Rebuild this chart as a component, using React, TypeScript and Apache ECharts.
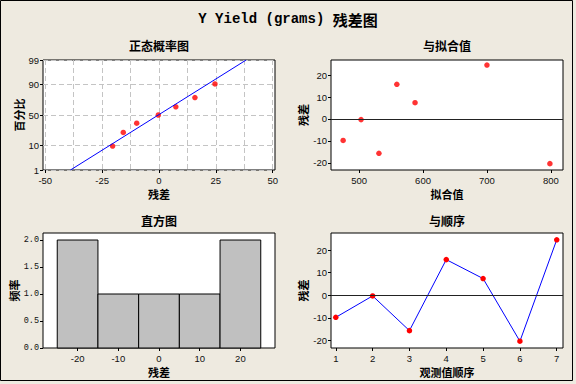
import React, { useEffect, useRef } from "react";
import * as echarts from "echarts";

// ---------- data ----------
const order = [1, 2, 3, 4, 5, 6, 7];
const residuals = [-9.8, -0.3, -15.7, 15.8, 7.4, -20.4, 24.6];
const fittedValues = [475, 503, 531, 559, 587.5, 798.5, 700];
const normPercent = [9.46, 22.97, 36.49, 50, 63.51, 77.03, 90.54];
const normTickPercent = [1, 10, 50, 90, 99];
const normXTicks = [-50, -25, 0, 25, 50];
const normXGrid = [-50, -37.5, -25, -12.5, 0, 12.5, 25, 37.5, 50];
const fitMean = -0.3;
const fitSd = 16.6;
const binCenters = [-20, -10, 0, 10, 20];
const binCounts = [2, 1, 1, 1, 2];
const binWidth = 10;
const histXTicks = [-20, -10, 0, 10, 20];
const histYTicks = [0, 0.5, 1, 1.5, 2];
const fitXTicks = [500, 600, 700, 800];
const residTicks = [-20, -10, 0, 10, 20];

function probit(p: number): number {
  const a = [-39.69683028665376, 220.9460984245205, -275.9285104469687, 138.357751867269, -30.66479806614716, 2.506628277459239];
  const b = [-54.47609879822406, 161.5858368580409, -155.6989798598866, 66.80131188771972, -13.28068155288572];
  const c = [-0.007784894002430293, -0.3223964580411365, -2.400758277161838, -2.549732539343734, 4.374664141464968, 2.938163982698783];
  const d = [0.007784695709041462, 0.3224671290700398, 2.445134137142996, 3.754408661907416];
  const pl = 0.02425;
  if (p < pl) {
    const q = Math.sqrt(-2 * Math.log(p));
    return (((((c[0] * q + c[1]) * q + c[2]) * q + c[3]) * q + c[4]) * q + c[5]) / ((((d[0] * q + d[1]) * q + d[2]) * q + d[3]) * q + 1);
  }
  if (p > 1 - pl) {
    const q = Math.sqrt(-2 * Math.log(1 - p));
    return -(((((c[0] * q + c[1]) * q + c[2]) * q + c[3]) * q + c[4]) * q + c[5]) / ((((d[0] * q + d[1]) * q + d[2]) * q + d[3]) * q + 1);
  }
  const q = p - 0.5, r = q * q;
  return (((((a[0] * r + a[1]) * r + a[2]) * r + a[3]) * r + a[4]) * r + a[5]) * q / (((((b[0] * r + b[1]) * r + b[2]) * r + b[3]) * r + b[4]) * r + 1);
}

const tickFont = { fontFamily: "Liberation Sans", fontSize: 9.5, color: "#111" };
const nameFont = { fontFamily: "Noto Sans CJK SC", fontSize: 11, fontWeight: "bold" as const, color: "#000" };
const noLine = { show: false, onZero: false };

export default function App() {
  const ref = useRef<HTMLDivElement>(null);
  useEffect(() => {
    document.body.style.margin = "0";
    if (!ref.current) return;
    const chart = echarts.init(ref.current, null, { renderer: "svg" });

    const sortedRes = [...residuals].sort((x, y) => x - y);
    const normZ = normPercent.map((p) => probit(p / 100));
    const tickZ = normTickPercent.map((p) => probit(p / 100));
    const zMin = tickZ[0];
    const zMax = tickZ[tickZ.length - 1];
    const normPts = sortedRes.map((r, i) => [r, normZ[i]]);
    const fitLine = [
      [fitMean + fitSd * zMin, zMin],
      [fitMean + fitSd * zMax, zMax],
    ];

    const gridCommon = { show: true, backgroundColor: "#fff", borderColor: "#000", borderWidth: 1, containLabel: false };
    const tick = { show: true, length: 3, lineStyle: { color: "#000" } };
    const dashed = { show: true, lineStyle: { color: "#C4C4C4", type: [5, 3] as any, width: 1 } };
    const zeroLine = {
      silent: true,
      symbol: "none",
      label: { show: false },
      lineStyle: { color: "#222", width: 1, type: "solid" as const },
      data: [{ yAxis: 0 }],
    };

    const subTitle = (x: number, y: number, text: string) => ({
      type: "text",
      x,
      y,
      style: { text, fill: "#000", fontFamily: "Noto Sans CJK SC", fontWeight: "bold", fontSize: 12, align: "center", verticalAlign: "middle" },
    });

    chart.setOption({
      animation: false,
      backgroundColor: "#EEEAE0",
      graphic: [
        { type: "rect", shape: { x: 0.5, y: 0.5, width: 572, height: 380 }, style: { fill: "none", stroke: "#000", lineWidth: 1 } },
        {
          type: "text",
          x: 288,
          y: 19,
          style: {
            text: "{a|Y Yield (grams) }{b|残差图}",
            align: "center",
            verticalAlign: "middle",
            rich: {
              a: { fontFamily: "Liberation Mono", fontWeight: "bold", fontSize: 14, fill: "#000" },
              b: { fontFamily: "Noto Sans CJK SC", fontWeight: "bold", fontSize: 15, fill: "#000" },
            },
          },
        },
        subTitle(159, 45, "正态概率图"),
        subTitle(447, 45, "与拟合值"),
        subTitle(159, 220, "直方图"),
        subTitle(447, 220, "与顺序"),
      ],
      grid: [
        { ...gridCommon, left: 43, top: 60, width: 232, height: 110 },
        { ...gridCommon, left: 331, top: 60, width: 232, height: 110 },
        { ...gridCommon, left: 43, top: 233, width: 232, height: 115 },
        { ...gridCommon, left: 331, top: 233, width: 232, height: 115 },
      ],
      xAxis: [
        {
          gridIndex: 0, type: "value", min: -51, max: 51, position: "bottom",
          axisLine: noLine, axisTick: { ...tick, customValues: normXTicks },
          axisLabel: { ...tickFont, margin: 5, customValues: normXTicks, formatter: (v: number) => String(v) },
          splitLine: { show: false },
          name: "残差", nameLocation: "middle", nameGap: 18, nameTextStyle: nameFont,
        },
        {
          gridIndex: 0, type: "value", min: -51, max: 51, position: "bottom",
          axisLine: noLine, axisTick: { show: false, customValues: normXGrid },
          axisLabel: { show: false }, splitLine: dashed,
        },
        {
          gridIndex: 1, type: "value", min: 456, max: 819, position: "bottom",
          axisLine: noLine, axisTick: { ...tick, customValues: fitXTicks },
          axisLabel: { ...tickFont, margin: 5, customValues: fitXTicks },
          splitLine: { show: false },
          name: "拟合值", nameLocation: "middle", nameGap: 18, nameTextStyle: nameFont,
        },
        {
          gridIndex: 2, type: "value", min: -28.5, max: 28.5, position: "bottom",
          axisLine: noLine, axisTick: { ...tick, customValues: histXTicks },
          axisLabel: { ...tickFont, margin: 5, customValues: histXTicks },
          splitLine: { show: false },
          name: "残差", nameLocation: "middle", nameGap: 18, nameTextStyle: nameFont,
        },
        {
          gridIndex: 3, type: "value", min: 0.87, max: 7.17, position: "bottom",
          axisLine: noLine, axisTick: { ...tick, customValues: order },
          axisLabel: { ...tickFont, margin: 5, customValues: order },
          splitLine: { show: false },
          name: "观测值顺序", nameLocation: "middle", nameGap: 18, nameTextStyle: nameFont,
        },
      ],
      yAxis: [
        {
          gridIndex: 0, type: "value", min: zMin, max: zMax, position: "left",
          axisLine: noLine, axisTick: { ...tick, customValues: tickZ },
          axisLabel: {
            ...tickFont, margin: 4, customValues: tickZ,
            formatter: (v: number) => {
              let best = 0;
              tickZ.forEach((z, i) => { if (Math.abs(z - v) < Math.abs(tickZ[best] - v)) best = i; });
              return String(normTickPercent[best]);
            },
          },
          splitLine: dashed,
          name: "百分比", nameLocation: "middle", nameGap: 19, nameTextStyle: nameFont,
        },
        {
          gridIndex: 1, type: "value", min: -23.3, max: 26.9, position: "left",
          axisLine: noLine, axisTick: { ...tick, customValues: residTicks },
          axisLabel: { ...tickFont, margin: 4, customValues: residTicks },
          splitLine: { show: false },
          name: "残差", nameLocation: "middle", nameGap: 23, nameTextStyle: nameFont,
        },
        {
          gridIndex: 2, type: "value", min: 0, max: 2.13, position: "left",
          axisLine: noLine, axisTick: { ...tick, customValues: histYTicks },
          axisLabel: { ...tickFont, fontFamily: "Liberation Mono", fontSize: 8.5, margin: 4, customValues: histYTicks, formatter: (v: number) => v.toFixed(1) },
          splitLine: { show: false },
          name: "频率", nameLocation: "middle", nameGap: 23, nameTextStyle: nameFont,
        },
        {
          gridIndex: 3, type: "value", min: -23.4, max: 27.6, position: "left",
          axisLine: noLine, axisTick: { ...tick, customValues: residTicks },
          axisLabel: { ...tickFont, margin: 4, customValues: residTicks },
          splitLine: { show: false },
          name: "残差", nameLocation: "middle", nameGap: 23, nameTextStyle: nameFont,
        },
      ],
      series: [
        {
          type: "line", xAxisIndex: 0, yAxisIndex: 0, data: fitLine, showSymbol: false, symbol: "none",
          lineStyle: { color: "#0000FF", width: 1 }, silent: true,
        },
        {
          type: "scatter", xAxisIndex: 0, yAxisIndex: 0, data: normPts, symbolSize: 5.5,
          itemStyle: { color: "#FF0000" },
        },
        {
          type: "scatter", xAxisIndex: 2, yAxisIndex: 1,
          data: fittedValues.map((f, i) => [f, residuals[i]]), symbolSize: 5.5,
          itemStyle: { color: "#FF0000" }, markLine: zeroLine,
        },
        {
          type: "custom", xAxisIndex: 3, yAxisIndex: 2,
          data: binCenters.map((c, i) => [c, binCounts[i]]),
          encode: { x: 0, y: 1 },
          renderItem: (params: any, api: any) => {
            const cx = api.value(0);
            const n = api.value(1);
            const p0 = api.coord([cx - binWidth / 2, n]);
            const p1 = api.coord([cx + binWidth / 2, 0]);
            return {
              type: "rect",
              shape: { x: p0[0], y: p0[1], width: p1[0] - p0[0], height: p1[1] - p0[1] },
              style: { fill: "#C0C0C0", stroke: "#000", lineWidth: 1 },
            };
          },
        },
        {
          type: "line", xAxisIndex: 4, yAxisIndex: 3,
          data: order.map((o, i) => [o, residuals[i]]),
          symbol: "circle", symbolSize: 5.5, showSymbol: true,
          lineStyle: { color: "#0000FF", width: 1 },
          itemStyle: { color: "#FF0000" },
          markLine: zeroLine,
        },
      ],
    });
    return () => chart.dispose();
  }, []);
  return <div ref={ref} style={{ width: 576, height: 384 }} />;
}
